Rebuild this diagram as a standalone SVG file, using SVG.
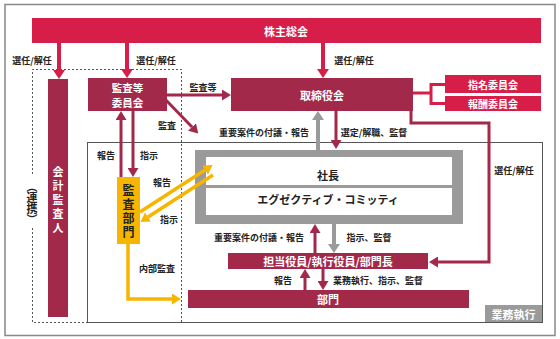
<svg xmlns="http://www.w3.org/2000/svg" width="560" height="339" viewBox="0 0 560 339">
<style>
.crim{fill:#d71e48}
.burg{fill:#a3294b}
.gray{fill:#9a9a9a}
.amb{fill:#f7b500}
.wt{fill:#fff;font-family:"Noto Sans CJK JP","Noto Sans",sans-serif;font-weight:bold;font-size:11px;text-anchor:middle;dominant-baseline:central}
.lb{fill:#222;font-family:"Noto Sans CJK JP","Noto Sans",sans-serif;font-weight:bold;font-size:9px;text-anchor:middle;dominant-baseline:central}
.vt{writing-mode:vertical-rl;letter-spacing:3px}
.cr{stroke:#d71e48;stroke-width:4;fill:none}
.bg{stroke:#a3294b;stroke-width:3;fill:none}
.gr{stroke:#9a9a9a;stroke-width:4;fill:none}
.yl{stroke:#f7b500;stroke-width:3.5;fill:none}
</style>
<defs>
<marker id="mR" markerUnits="userSpaceOnUse" markerWidth="9" markerHeight="12" refX="0" refY="6" orient="auto"><path d="M0,0 L9,6 L0,12 z" fill="#d71e48"/></marker>
<marker id="mB" markerUnits="userSpaceOnUse" markerWidth="9" markerHeight="11" refX="0" refY="5.5" orient="auto"><path d="M0,0 L9,5.5 L0,11 z" fill="#a3294b"/></marker>
<marker id="mG" markerUnits="userSpaceOnUse" markerWidth="9" markerHeight="12" refX="0" refY="6" orient="auto"><path d="M0,0 L9,6 L0,12 z" fill="#9a9a9a"/></marker>
<marker id="mY" markerUnits="userSpaceOnUse" markerWidth="9" markerHeight="11" refX="0" refY="5.5" orient="auto"><path d="M0,0 L9,5.5 L0,11 z" fill="#f7b500"/></marker>
</defs>
<rect x="0" y="0" width="560" height="339" fill="#fff"/>
<rect x="5" y="4.5" width="550" height="331" fill="none" stroke="#888" stroke-width="1.5"/>

<g id="frames">
<rect x="87.5" y="142.5" width="455" height="180" fill="none" stroke="#555" stroke-width="1"/>
<path d="M32.5,174 V69.5 H181.5 V322.5 M32.5,228 V322.5 H87.5" fill="none" stroke="#555" stroke-width="1" stroke-dasharray="2,2"/>
</g>

<g id="shareholders"><rect class="crim" x="32" y="18" width="509" height="25"/><text class="wt" x="286" y="31">株主総会</text></g>
<g id="auditor"><rect class="burg" x="48" y="79" width="20" height="238"/><text class="wt vt" x="58" y="201">会計監査人</text></g>
<g id="renkei"><text class="lb vt" x="32" y="203" style="font-size:11px;letter-spacing:0px">（連携）</text></g>
<g id="audit-committee"><rect class="burg" x="88" y="78" width="79" height="33"/><text class="wt" x="127.5" y="87.5" style="font-size:10.5px">監査等</text><text class="wt" x="127.5" y="102.5" style="font-size:10.5px">委員会</text></g>
<g id="board"><rect class="burg" x="231" y="78" width="182" height="33"/><text class="wt" x="322" y="95">取締役会</text></g>
<g id="nomination"><rect class="crim" x="445" y="75" width="96" height="18"/><text class="wt" x="493" y="84" style="font-size:10px">指名委員会</text></g>
<g id="remuneration"><rect class="crim" x="445" y="96" width="96" height="15"/><text class="wt" x="493" y="103.5" style="font-size:10px">報酬委員会</text></g>
<g id="president-frame">
<rect class="gray" x="195" y="150" width="268" height="74"/>
<rect fill="#fff" x="206" y="157" width="246" height="28"/>
<rect fill="#fff" x="206" y="188" width="246" height="27"/>
</g>
<g id="president"><text class="lb" x="328" y="175" style="font-size:11px">社長</text></g>
<g id="executive-committee"><text class="lb" x="328" y="199" style="font-size:11px">エグゼクティブ・コミッティ</text></g>
<g id="internal-audit"><rect class="amb" x="117" y="177" width="23" height="67"/><text class="lb vt" x="128.5" y="212" style="font-size:12px;letter-spacing:2px">監査部門</text></g>
<g id="officers"><rect class="burg" x="228" y="253" width="200" height="16"/><text class="wt" x="328" y="261">担当役員/執行役員/部門長</text></g>
<g id="divisions"><rect class="burg" x="188" y="290" width="281" height="18"/><text class="wt" x="328" y="299">部門</text></g>
<g id="business-exec"><rect class="gray" x="485" y="305" width="57" height="17"/><text class="wt" x="513.5" y="313.5">業務執行</text></g>

<g id="connectors">
<path class="cr" d="M59,43 V70" marker-end="url(#mR)"/>
<path class="cr" d="M127,43 V69" marker-end="url(#mR)"/>
<path class="cr" d="M323,43 V69" marker-end="url(#mR)"/>
<path class="cr" d="M413,93 H431 M445,84.5 H431 V103.5 H445" style="stroke-width:3"/>
<path class="bg" d="M167,95 H222" marker-end="url(#mB)"/>
<path class="bg" d="M163,97 L192,127" marker-end="url(#mB)"/>
<path class="gr" d="M318,150 V120" marker-end="url(#mG)"/>
<path class="bg" d="M336,111 V140" marker-end="url(#mB)"/>
<path class="bg" d="M121,177 V120" marker-end="url(#mB)"/>
<path class="bg" d="M133,111 V168" marker-end="url(#mB)"/>
<path class="yl" d="M140,212 L205,170" marker-end="url(#mY)"/>
<path class="yl" d="M213,175 L148,217" marker-end="url(#mY)"/>
<path class="yl" d="M128,244 V299 H172" marker-end="url(#mY)"/>
<path class="gr" d="M334,224 V244" marker-end="url(#mG)"/>
<path class="bg" d="M315,253 V233" marker-end="url(#mB)"/>
<path class="bg" d="M411,111 V123 H489 V262 H438" marker-end="url(#mB)"/>
<path class="bg" d="M305,290 V278" marker-end="url(#mB)"/>
<path class="bg" d="M323,269 V281" marker-end="url(#mB)"/>
</g>

<g id="labels">
<text class="lb" x="32" y="60">選任/解任</text>
<text class="lb" x="156" y="60">選任/解任</text>
<text class="lb" x="354" y="60">選任/解任</text>
<text class="lb" x="203" y="87">監査等</text>
<text class="lb" x="167" y="125">監査</text>
<text class="lb" x="264" y="132">重要案件の付議・報告</text>
<text class="lb" x="374" y="132">選定/解職、監督</text>
<text class="lb" x="514" y="170">選任/解任</text>
<text class="lb" x="106" y="155">報告</text>
<text class="lb" x="149" y="155">指示</text>
<text class="lb" x="162" y="182">報告</text>
<text class="lb" x="169" y="219">指示</text>
<text class="lb" x="157" y="268">内部監査</text>
<text class="lb" x="259" y="237">重要案件の付議・報告</text>
<text class="lb" x="369" y="237">指示、監督</text>
<text class="lb" x="283" y="280">報告</text>
<text class="lb" x="378" y="280">業務執行、指示、監督</text>
</g>
</svg>
